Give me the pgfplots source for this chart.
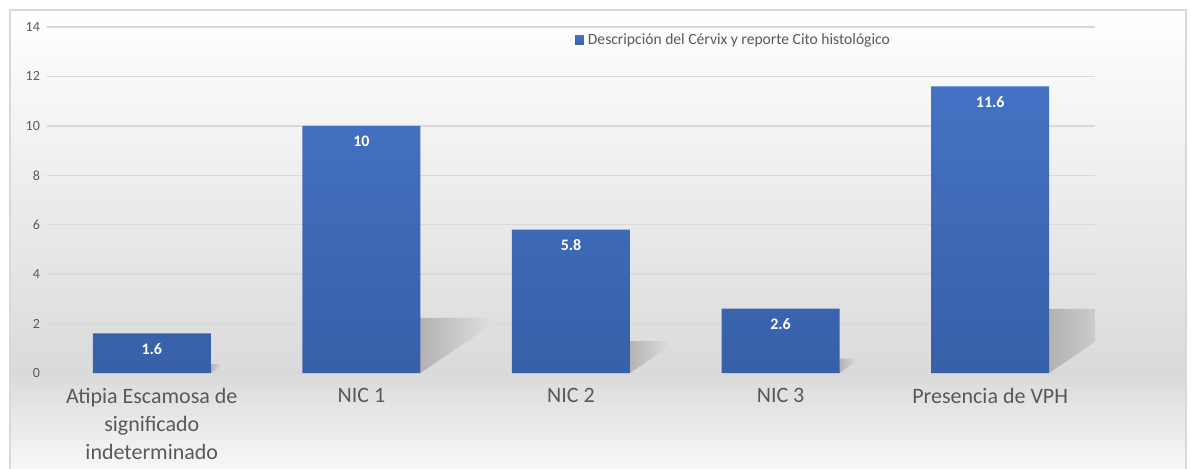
\documentclass[border=0pt]{standalone}
\usepackage{pgfplots}
\pgfplotsset{compat=1.18}
\usepackage{fontspec}
\setmainfont{Carlito}

\definecolor{barTop}{HTML}{4472C4}
\definecolor{barBot}{HTML}{3760A8}
\definecolor{txtGray}{HTML}{595959}
\definecolor{gridGray}{HTML}{D9D9D9}
\definecolor{bgGray}{HTML}{DADADA}

\begin{document}
\begin{tikzpicture}
\path[use as bounding box] (0,0) rectangle (595.5pt,234pt);
% chart area background
\shade[top color=white, bottom color=bgGray] (5pt,47.5pt) rectangle (593pt,229pt);
\shade[top color=bgGray, bottom color=white!97!black] (5pt,0pt) rectangle (593pt,47.5pt);
\draw[gridGray, line width=0.8pt] (5pt,-1pt) -- (5pt,229pt) -- (593pt,229pt) -- (593pt,-1pt);

\begin{axis}[
  at={(23.5pt,47.5pt)}, anchor=south west,
  scale only axis, width=524pt, height=173pt,
  xmin=-0.5, xmax=4.5, ymin=0, ymax=14,
  xtick={0,1,2,3,4},
  xticklabels={{Atipia Escamosa de\\significado\\indeterminado},{NIC 1},{NIC 2},{NIC 3},{Presencia de VPH}},
  ytick={0,2,...,14},
  axis line style={draw=none},
  tick style={draw=none},
  ymajorgrids, grid style={gridGray, line width=0.7pt},
  xticklabel style={align=center, font=\fontsize{11}{14}\selectfont, text=txtGray, yshift=-4pt},
  yticklabel style={font=\fontsize{7}{8}\selectfont, text=txtGray},
  /pgf/number format/assume math mode=true,
  legend style={at={(0.656,0.962)}, anchor=center, draw=none, fill=none,
    font=\fontsize{7.8}{9}\selectfont\color{txtGray}},
  legend image code/.code={\fill[barTop] (0pt,-2.2pt) rectangle (4.4pt,2.2pt);},
]
% bar shadows
\addplot[draw=none, left color=black!30, right color=black!10, forget plot] coordinates {(0.2815,0) (0.344,0.357) (0.2815,0.357) (0.2815,0)};
\addplot[draw=none, left color=black!30, right color=black!10, forget plot] coordinates {(1.2815,0) (1.6715,2.23) (1.2815,2.23) (1.2815,0)};
\addplot[draw=none, left color=black!30, right color=black!10, forget plot] coordinates {(2.2815,0) (2.5075,1.29) (2.2815,1.29) (2.2815,0)};
\addplot[draw=none, left color=black!30, right color=black!10, forget plot] coordinates {(3.2815,0) (3.3815,0.58) (3.2815,0.58) (3.2815,0)};
\addplot[draw=none, left color=black!30, right color=black!10, forget plot] coordinates {(4.2815,0) (4.7315,2.59) (4.2815,2.59) (4.2815,0)};

\addplot[ybar, bar width=59pt, draw=none, top color=barTop, bottom color=barBot,
  nodes near coords,
  every node near coord/.append style={font=\bfseries\fontsize{8}{9}\selectfont, text=white, yshift=-14pt},
  /pgf/number format/.cd, fixed, precision=1, assume math mode=true]
  coordinates {(0,1.6) (1,10) (2,5.8) (3,2.6) (4,11.6)};
\addlegendentry{Descripción del Cérvix y reporte Cito histológico}
\end{axis}
\end{tikzpicture}
\end{document}
